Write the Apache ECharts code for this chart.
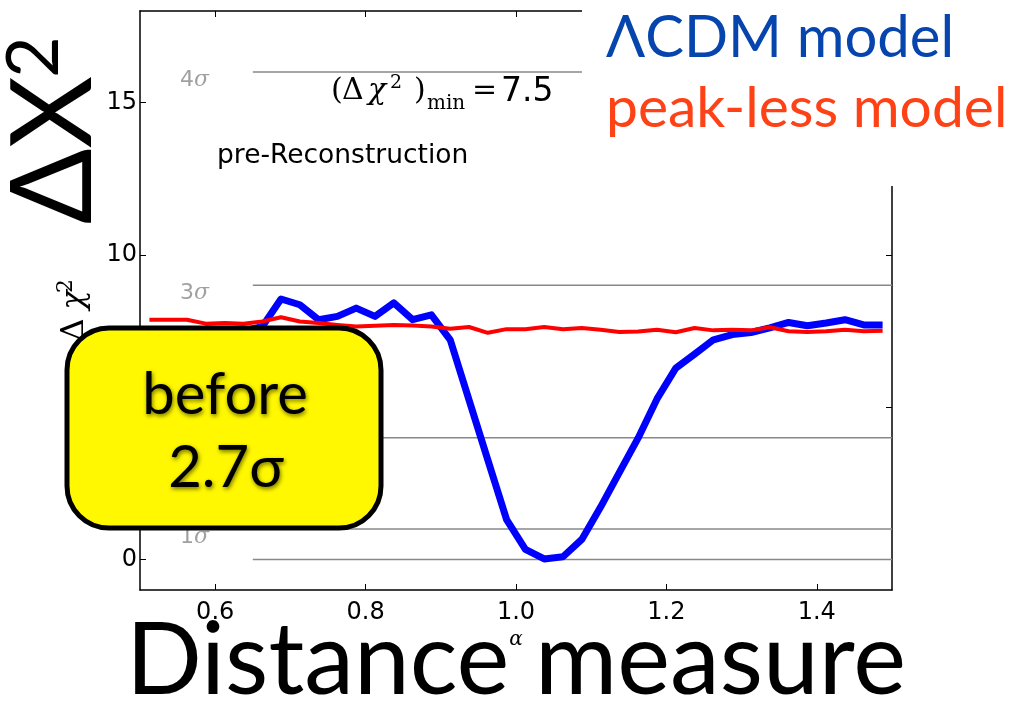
<!DOCTYPE html>
<html>
<head>
<meta charset="utf-8">
<title>Distance measure</title>
<script src="https://cdn.jsdelivr.net/npm/echarts@6/dist/echarts.min.js"></script>
<style>
  html, body { margin: 0; padding: 0; background: #fff; }
  #chart { width: 1012px; height: 703px; }
</style>
</head>
<body>
<div id="chart"></div>
<script>
// alpha grid
const alpha = [
  0.5125, 0.5375, 0.5625, 0.5875, 0.6125, 0.6375, 0.6625, 0.6875, 0.7125, 0.7375,
  0.7625, 0.7875, 0.8125, 0.8375, 0.8625, 0.8875, 0.9125, 0.9375, 0.9625, 0.9875,
  1.0125, 1.0375, 1.0625, 1.0875, 1.1125, 1.1375, 1.1625, 1.1875, 1.2125, 1.2375,
  1.2625, 1.2875, 1.3125, 1.3375, 1.3625, 1.3875, 1.4125, 1.4375, 1.4625, 1.4875
];
// delta chi^2 for the LCDM template
const lcdm = [
  7.45, 7.40, 7.45, 7.40, 7.45, 7.50, 7.64, 8.55, 8.36, 7.87,
  7.98, 8.25, 7.98, 8.42, 7.87, 8.03, 7.21, 5.24, 3.27, 1.31,
  0.33, 0.02, 0.09, 0.66, 1.72, 2.86, 3.99, 5.27, 6.28, 6.74,
  7.21, 7.38, 7.45, 7.60, 7.78, 7.67, 7.76, 7.87, 7.70, 7.70
];
// delta chi^2 for the peak-less template
const peakless = [
  7.87, 7.87, 7.87, 7.74, 7.76, 7.74, 7.81, 7.95, 7.81, 7.76,
  7.70, 7.65, 7.67, 7.70, 7.68, 7.65, 7.57, 7.63, 7.44, 7.56,
  7.56, 7.63, 7.56, 7.60, 7.54, 7.47, 7.48, 7.54, 7.46, 7.60,
  7.52, 7.54, 7.52, 7.62, 7.49, 7.47, 7.49, 7.54, 7.49, 7.51
];
// confidence levels: n-sigma and matching delta chi^2
const sigmaNames = ['1', '2', '3', '4'];
const sigmaChi2 = [1, 4, 9, 16];
const refLevels = [0, 1, 4, 9, 16];
// tick labels
const xTicks = [0.6, 0.8, 1.0, 1.2, 1.4];
const yTicks = [0, 5, 10, 15];

const refStart = 0.65, refEnd = 1.5, sigmaLabelX = 0.5725;

const chart = echarts.init(document.getElementById('chart'), null, { renderer: 'canvas' });

const axisLineStyle = { color: '#000', width: 1.5 };
const tickStyle = { color: '#000', width: 1 };

function xAxisDef(pos, showLabels) {
  const ax = {
    type: 'value', min: 0.5, max: 1.5, position: pos,
    axisLine: { show: true, onZero: false, lineStyle: axisLineStyle },
    axisTick: { show: true, inside: true, length: 6, customValues: xTicks, lineStyle: tickStyle },
    axisLabel: {
      show: showLabels, customValues: xTicks, formatter: v => v.toFixed(1),
      fontFamily: 'DejaVu Sans', fontSize: 24, color: '#000', margin: 11
    },
    splitLine: { show: false }
  };
  if (showLabels) {
    ax.name = 'α';
    ax.nameLocation = 'middle';
    ax.nameGap = 32;
    ax.nameTextStyle = { fontFamily: 'DejaVu Serif', fontStyle: 'italic', fontSize: 20, color: '#000' };
  }
  return ax;
}
function yAxisDef(pos, showLabels) {
  return {
    type: 'value', min: -1, max: 18, position: pos,
    axisLine: { show: true, onZero: false, lineStyle: axisLineStyle },
    axisTick: { show: true, inside: true, length: 6, customValues: yTicks, lineStyle: tickStyle },
    axisLabel: {
      show: showLabels, customValues: yTicks, formatter: v => String(v),
      fontFamily: 'DejaVu Sans', fontSize: 24, color: '#000', margin: 3
    },
    splitLine: { show: false }
  };
}

const refSeries = refLevels.map(lev => ({
  type: 'line', silent: true, symbol: 'none', z: 1,
  data: [[refStart, lev], [refEnd, lev]],
  lineStyle: { color: '#888', width: 1.5 }
}));

const sigmaLabelSeries = {
  type: 'scatter', silent: true, symbolSize: 1, z: 1,
  itemStyle: { color: 'rgba(0,0,0,0)' },
  data: sigmaChi2.map((c, i) => ({ value: [sigmaLabelX, c], name: sigmaNames[i] })),
  label: {
    show: true, position: 'inside', offset: [0, 8],
    formatter: p => '{n|' + p.name + '}{s|σ}',
    rich: {
      n: { fontFamily: 'DejaVu Sans', fontSize: 22, color: '#888' },
      s: { fontFamily: 'DejaVu Serif', fontStyle: 'italic', fontSize: 22, color: '#888' }
    }
  }
};

function txt(x, y, text, font, fill, align, extra) {
  return Object.assign({
    type: 'text', x: x, y: y, z: 101,
    style: { text: text, font: font, fill: fill, textAlign: align || 'left', textVerticalAlign: 'middle' }
  }, extra || {});
}

const serif = '"DejaVu Serif", serif';
const up = { rotation: Math.PI / 2 };
const graphics = [
  // blank the upper-right corner for the model names
  { type: 'rect', z: 100, shape: { x: 582, y: 0, width: 430, height: 186 }, style: { fill: '#fff' } },
  txt(606, 38, 'ΛCDM model', '58px Lato', '#0645ad'),
  txt(606, 109, 'peak-less model', '57px Lato', '#ff4216'),
  // big vertical axis title
  txt(55, 150, 'ΔX', '112px Lato', '#000', 'center', up),
  txt(35, 57, '2', '72px Lato', '#000', 'center', up),
  // small panel y label
  txt(75, 330, 'Δ', '32px ' + serif, '#000', 'center', up),
  txt(75, 300, 'χ', 'italic 32px ' + serif, '#000', 'center', up),
  txt(66, 286, '2', '22px ' + serif, '#000', 'center', up),
  // panel annotations
  txt(217, 156, 'pre-Reconstruction', '26.5px "DejaVu Sans"', '#000'),
  txt(331, 91, '(', '30px ' + serif, '#000'),
  txt(342, 91, 'Δ', '30px ' + serif, '#000'),
  txt(368, 91, 'χ', 'italic 30px ' + serif, '#000'),
  txt(390, 83, '2', '19px ' + serif, '#000'),
  txt(414, 91, ')', '30px ' + serif, '#000'),
  txt(427, 104, 'min', '20px ' + serif, '#000'),
  txt(472, 91, '=', '30px ' + serif, '#000'),
  txt(501, 92, '7.5', '33px "DejaVu Sans"', '#000'),
  // significance badge
  { type: 'rect', z: 102, shape: { x: 67, y: 328, width: 314, height: 200, r: 42 },
    style: { fill: '#fff800', stroke: '#000', lineWidth: 5 } },
  { type: 'text', x: 225, y: 395, z: 103,
    style: { text: 'before', font: '58px Lato', fill: '#000', textAlign: 'center', textVerticalAlign: 'middle',
             textShadowColor: 'rgba(0,0,0,0.55)', textShadowBlur: 4, textShadowOffsetX: 1, textShadowOffsetY: 2 } },
  { type: 'text', x: 226, y: 468, z: 103,
    style: { text: '2.7σ', font: '58px Lato', fill: '#000', textAlign: 'center', textVerticalAlign: 'middle',
             textShadowColor: 'rgba(0,0,0,0.55)', textShadowBlur: 4, textShadowOffsetX: 1, textShadowOffsetY: 2 } },
  // big horizontal axis title
  txt(516, 662, 'Distance measure', '100px Lato', '#000', 'center')
];

chart.setOption({
  animation: false,
  backgroundColor: '#fff',
  grid: { left: 140, right: 120, top: 11, bottom: 113, containLabel: false },
  xAxis: [xAxisDef('bottom', true), xAxisDef('top', false)],
  yAxis: [yAxisDef('left', true), yAxisDef('right', false)],
  series: refSeries.concat([
    sigmaLabelSeries,
    {
      name: 'ΛCDM', type: 'line', symbol: 'none', z: 3,
      data: alpha.map((a, i) => [a, lcdm[i]]),
      lineStyle: { color: '#0000ff', width: 7, join: 'round' }
    },
    {
      name: 'peak-less', type: 'line', symbol: 'none', z: 4,
      data: alpha.map((a, i) => [a, peakless[i]]),
      lineStyle: { color: '#ff0000', width: 4, join: 'round' }
    }
  ]),
  graphic: { elements: graphics }
});
</script>
</body>
</html>
